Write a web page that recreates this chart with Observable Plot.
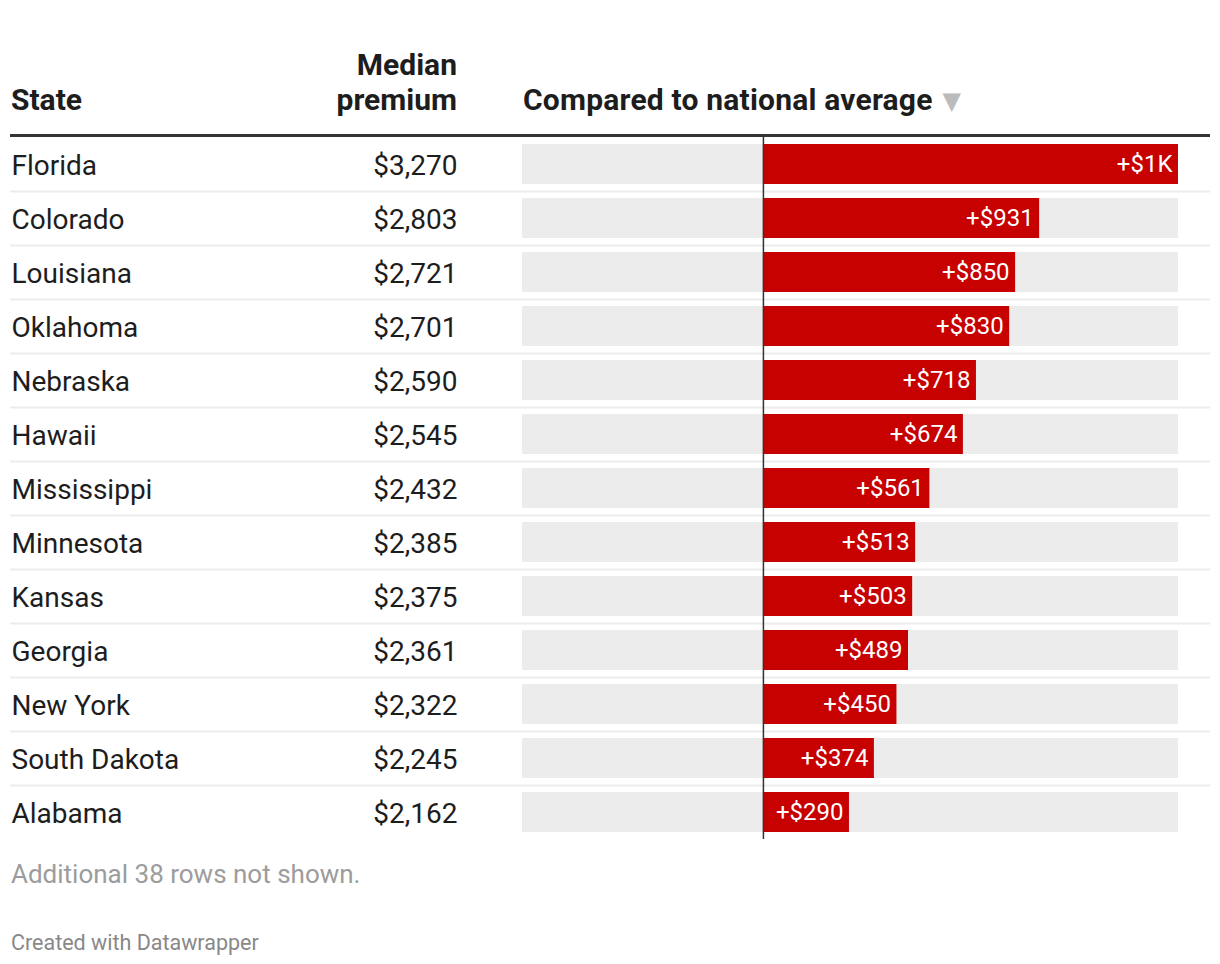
<!DOCTYPE html>
<html>
<head>
<meta charset="utf-8">
<script src="https://cdn.jsdelivr.net/npm/d3@7"></script>
<script src="https://cdn.jsdelivr.net/npm/@observablehq/plot@0.6"></script>
<style>
  html, body { margin: 0; padding: 0; background: #fff; }
  body { width: 1220px; height: 964px; position: relative; font-family: Roboto, "Noto Sans", sans-serif; color: #1d1d1d; overflow: hidden; }
  .abs { position: absolute; white-space: nowrap; }
  .hdr { font-weight: 700; font-size: 30px; line-height: 35px; color: #1d1d1d; }
  .tri { color: #bbbbbb; font-size: 24px; font-family: "DejaVu Sans", sans-serif; vertical-align: 1px; margin-left: 10px; }
  #rule { position: absolute; left: 10px; top: 134px; width: 1200px; height: 3px; background: #333; }
  #chart { position: absolute; left: 0; top: 137px; }
  .note { font-size: 26px; line-height: 26px; color: #9c9c9c; }
  .credit { font-size: 21.5px; line-height: 21.5px; color: #888; }
</style>
</head>
<body>
<div class="abs hdr" style="left:11px; top:82px;">State</div>
<div class="abs hdr" style="right:763px; top:47px; text-align:right;">Median<br>premium</div>
<div class="abs hdr" style="left:523px; top:82px; letter-spacing:0.2px;">Compared to national average<span class="tri">▼</span></div>
<div id="rule"></div>
<div id="chart"></div>
<div class="abs note" style="left:11px; top:860.5px;">Additional 38 rows not shown.</div>
<div class="abs credit" style="left:11px; top:932px;">Created with Datawrapper</div>
<script>
const states = ["Florida", "Colorado", "Louisiana", "Oklahoma", "Nebraska", "Hawaii", "Mississippi", "Minnesota", "Kansas", "Georgia", "New York", "South Dakota", "Alabama"];
const premiums = [3270, 2803, 2721, 2701, 2590, 2545, 2432, 2385, 2375, 2361, 2322, 2245, 2162];
const diffs = [1399, 931, 850, 830, 718, 674, 561, 513, 503, 489, 450, 374, 290];
const xDomain = [-812, 1399];

const rows = states.map((s, i) => ({state: s, premium: premiums[i], diff: diffs[i]}));
const fmtPremium = d => "$" + d3.format(",")(d);
const fmtDiff = d => d >= 1000 ? "+$" + Math.round(d / 1000) + "K" : "+$" + d;

const chart = Plot.plot({
  width: 1220,
  height: 702,
  marginTop: 0,
  marginBottom: 0,
  marginLeft: 10,
  marginRight: 10,
  style: {fontFamily: "Roboto, sans-serif", background: "transparent", overflow: "visible"},
  x: {domain: xDomain, range: [522, 1178], axis: null},
  y: {domain: states, padding: 0, axis: null},
  marks: [
    // row separators
    Plot.ruleY(states.slice(0, -1), {y: d => d, dy: 27, stroke: "#ececec", strokeWidth: 2}),
    // background track
    Plot.barX(rows, {y: "state", x1: () => xDomain[0], x2: () => xDomain[1], fill: "#ececec", insetTop: 7, insetBottom: 7}),
    // value bars
    Plot.barX(rows, {y: "state", x1: () => 0, x2: "diff", fill: "#c70000", insetTop: 7, insetBottom: 7}),
    // zero line
    Plot.ruleX([0], {stroke: "#333", strokeWidth: 1.5}),
    // state names
    Plot.text(rows, {y: "state", text: "state", frameAnchor: "left", textAnchor: "start", dx: 1, dy: 2, fontSize: 28, fill: "#1d1d1d"}),
    // premium values
    Plot.text(rows, {y: "state", text: d => fmtPremium(d.premium), frameAnchor: "left", textAnchor: "end", dx: 447, dy: 2, fontSize: 28, fill: "#1d1d1d"}),
    // bar labels
    Plot.text(rows, {y: "state", x: "diff", text: d => fmtDiff(d.diff), textAnchor: "end", dx: -6, fontSize: 24, fill: "#ffffff"})
  ]
});
document.getElementById("chart").appendChild(chart);
</script>
</body>
</html>
